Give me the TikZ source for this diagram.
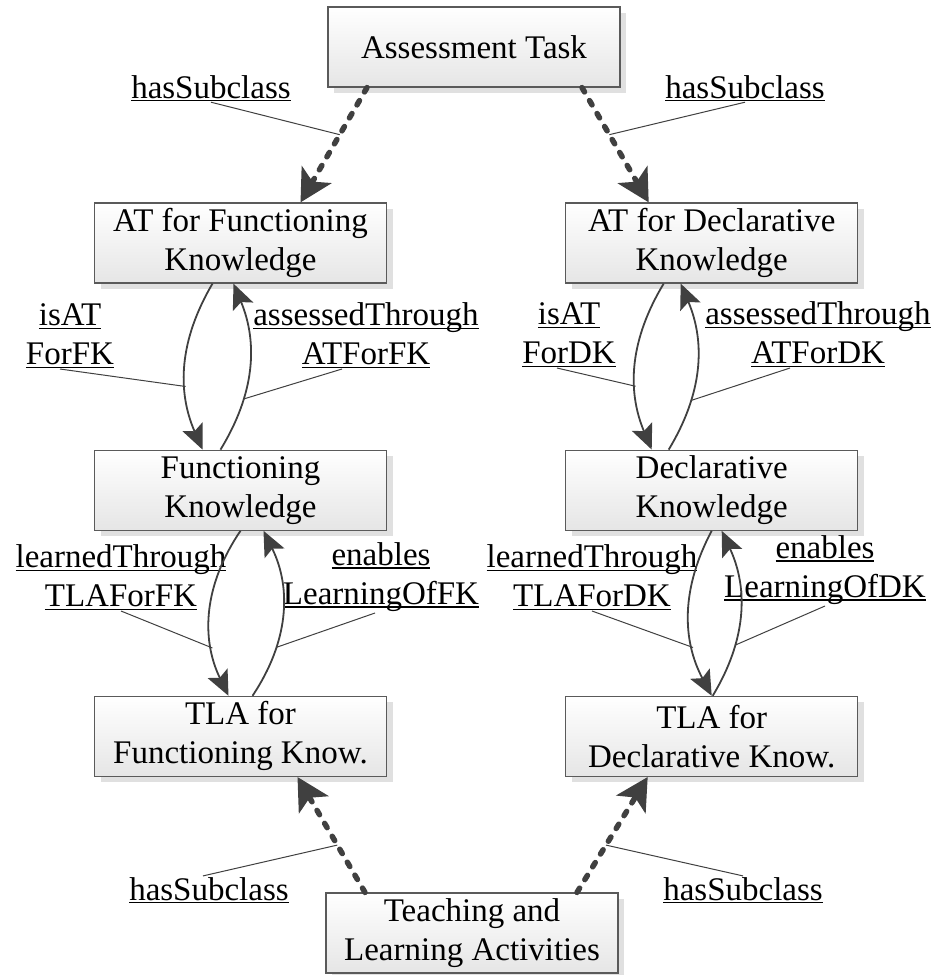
\documentclass[tikz,border=0pt]{standalone}
\usepackage{fontspec}
\setmainfont{Liberation Serif}
\usetikzlibrary{arrows.meta,positioning,shadows}
\definecolor{arrowgray}{RGB}{64,64,64}
\definecolor{boxline}{RGB}{90,90,90}
\newcommand{\ulbl}[1]{\leavevmode\setbox0=\hbox{#1}\rlap{\rule[-3pt]{\wd0}{1.3pt}}\box0}

\begin{document}
\begin{tikzpicture}[
    x=1pt, y=-1pt,
    node distance=166pt and 178pt,
    concept/.style={rectangle, draw=boxline, line width=1.2pt, top color=white, bottom color=black!10,
                    minimum width=292pt, minimum height=80pt, inner sep=2pt, align=center,
                    font=\fontsize{33}{39}\selectfont,
                    drop shadow={shadow xshift=6pt, shadow yshift=-6pt, fill=black!12, opacity=1}},
    role/.style={align=center, inner sep=1pt, font=\fontsize{33}{39}\selectfont},
    subclass/.style={-{Stealth[length=32pt, width=34pt, inset=8pt]}, draw=arrowgray, line width=5.5pt,
                     line cap=round, dash pattern=on 5pt off 10pt},
    relation/.style={-{Stealth[length=25pt, width=22pt, inset=5pt]}, draw=arrowgray, line width=1.8pt},
    leader/.style={draw=arrowgray, line width=1pt}
]
\useasboundingbox (0,0) rectangle (936,975);

\node[concept] (task) at (474,47) {Assessment Task};
\node[concept] (atfk) at (240.5,243) {AT for Functioning\\Knowledge};
\node[concept, right=of atfk] (atdk) {AT for Declarative\\Knowledge};
\node[concept, below=of atfk] (fk) {Functioning\\Knowledge};
\node[concept, right=of fk] (dk) {Declarative\\Knowledge};
\node[concept, below=165pt of fk] (tlafk) {TLA for\\Functioning Know.};
\node[concept, right=of tlafk] (tladk) {TLA for\\Declarative Know.};
\node[concept] (tla) at (472,933) {Teaching and\\Learning Activities};

\node[role, anchor=base] (hsTL) at (211,98) {\ulbl{hasSubclass}};
\node[role, anchor=base] (hsTR) at (745,98) {\ulbl{hasSubclass}};
\node[role, anchor=south] (isatfk) at (70,369) {\ulbl{isAT}\\\ulbl{ForFK}};
\node[role, anchor=south] (assfk) at (366,369) {\ulbl{assessedThrough}\\\ulbl{ATForFK}};
\node[role, anchor=south] (isatdk) at (569,368) {\ulbl{isAT}\\\ulbl{ForDK}};
\node[role, anchor=south] (assdk) at (818,368) {\ulbl{assessedThrough}\\\ulbl{ATForDK}};
\node[role, anchor=south] (learnfk) at (121,611) {\ulbl{learnedThrough}\\\ulbl{TLAForFK}};
\node[role, anchor=south] (enablefk) at (381,613) {\ulbl{enables}\\\ulbl{LearningOfFK}};
\node[role, anchor=south] (learndk) at (592,611) {\ulbl{learnedThrough}\\\ulbl{TLAForDK}};
\node[role, anchor=south] (enabledk) at (825,606) {\ulbl{enables}\\\ulbl{LearningOfDK}};
\node[role, anchor=base] (hsBL) at (209,900) {\ulbl{hasSubclass}};
\node[role, anchor=base] (hsBR) at (743,900) {\ulbl{hasSubclass}};

\draw[subclass] ([xshift=-107pt]task.south) -- coordinate[pos=.41] (hsA) ([xshift=60pt]atfk.north);
\draw[subclass] ([xshift=108pt]task.south) -- coordinate[pos=.41] (hsB) ([xshift=-63pt]atdk.north);
\draw[subclass] ([xshift=-107pt]tla.north) -- coordinate[pos=.41] (hsC) ([xshift=57pt]tlafk.south);
\draw[subclass] ([xshift=105pt]tla.north) -- coordinate[pos=.41] (hsD) ([xshift=-64pt]tladk.south);

\draw[relation] ([xshift=-28pt]atfk.south) to[bend right=27] coordinate[pos=.63] (cIsFK) ([xshift=-38pt]fk.north);
\draw[relation] ([xshift=-20pt]fk.north) to[bend right=27] coordinate[pos=.31] (cAsFK) ([xshift=-7pt]atfk.south);
\draw[relation] ([xshift=-48pt]atdk.south) to[bend right=27] coordinate[pos=.63] (cIsDK) ([xshift=-60pt]dk.north);
\draw[relation] ([xshift=-43pt]dk.north) to[bend right=27] coordinate[pos=.3] (cAsDK) ([xshift=-31pt]atdk.south);
\draw[relation] (fk.south) to[bend right=30] coordinate[pos=.72] (cLnFK) ([xshift=-12pt]tlafk.north);
\draw[relation] ([xshift=12pt]tlafk.north) to[bend right=30] coordinate[pos=.3] (cEnFK) ([xshift=23pt]fk.south);
\draw[relation] (dk.south) to[bend right=28] coordinate[pos=.71] (cLnDK) (tladk.north);
\draw[relation] ([xshift=1pt]tladk.north) to[bend right=28] coordinate[pos=.31] (cEnDK) ([xshift=10pt]dk.south);

\draw[leader] (hsTL.south) -- (hsA);
\draw[leader] (hsTR.south) -- (hsB);
\draw[leader] ([xshift=-10pt]isatfk.south) -- (cIsFK);
\draw[leader] ([xshift=-24pt]assfk.south) -- (cAsFK);
\draw[leader] ([xshift=-12pt]isatdk.south) -- (cIsDK);
\draw[leader] ([xshift=-28pt]assdk.south) -- (cAsDK);
\draw[leader] (learnfk.south) -- (cLnFK);
\draw[leader] ([xshift=-6pt]enablefk.south) -- (cEnFK);
\draw[leader] (learndk.south) -- (cLnDK);
\draw[leader] (enabledk.south) -- (cEnDK);
\draw[leader] ([xshift=-6pt]hsBL.north) -- (hsC);
\draw[leader] (hsBR.north) -- (hsD);

\end{tikzpicture}
\end{document}
